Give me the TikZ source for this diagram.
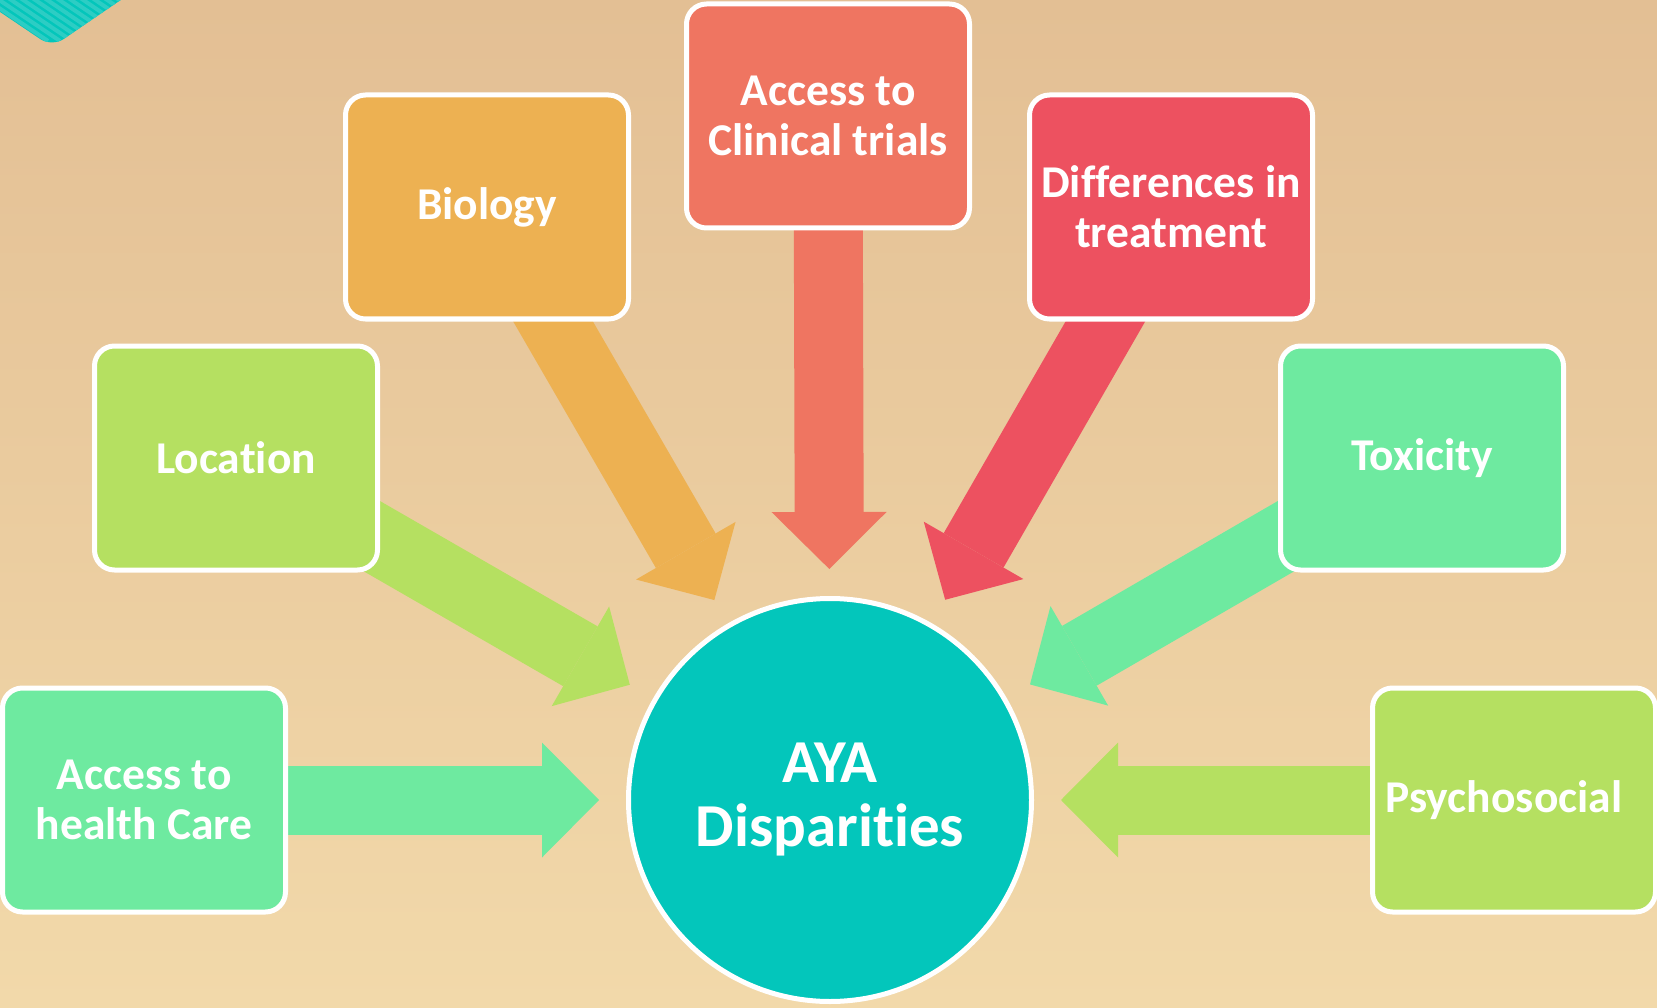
\documentclass[tikz,border=0pt]{standalone}
\usepackage{fontspec}
\setmainfont{Carlito}[Ligatures=NoCommon]
\usetikzlibrary{arrows.meta,backgrounds}

\definecolor{bgtop}{RGB}{227,191,148}
\definecolor{bgbot}{RGB}{242,217,170}
\definecolor{cbio}{RGB}{237,177,82}
\definecolor{ctrial}{RGB}{239,117,97}
\definecolor{cdiff}{RGB}{237,81,96}
\definecolor{clime}{RGB}{181,224,97}
\definecolor{cmint}{RGB}{110,234,160}
\definecolor{cteal}{RGB}{3,198,187}
\definecolor{cstripe}{RGB}{44,205,196}

\begin{document}
\begin{tikzpicture}[x=1pt, y=-1pt,
    factor/.style={draw=white, line width=5pt, rounded corners=20pt, minimum width=283pt, minimum height=224pt, text=white, align=center, font=\fontsize{45.5}{50}\selectfont\bfseries},
    hub/.style={circle, draw=white, line width=5pt, fill=cteal, minimum size=403pt, text=white, align=center, font=\fontsize{61}{64}\selectfont\bfseries},
    feed/.style={line width=69pt, -{Triangle[length=57pt, width=115pt, line width=0pt]}, shorten >=27pt, shorten <=-60pt}]
    \useasboundingbox (0,0) rectangle (1657,1008);

    \node[factor, fill=cmint] (care) at (144,800) {Access to\\health Care};
    \node[factor, fill=clime] (loc) at (236,458) {Location};
    \node[factor, fill=cbio] (bio) at (487,207) {Biology};
    \node[factor, fill=ctrial] (trial) at (828,116) {Access to\\Clinical trials};
    \node[factor, fill=cdiff] (diff) at (1171,207) {Differences in\\treatment};
    \node[factor, fill=cmint] (tox) at (1422,458) {Toxicity};
    \node[factor, fill=clime] (psy) at (1514,800) {Psychosocial\hspace*{20pt}};
    \node[hub] (aya) at (830,800) {AYA\\Disparities};

    \begin{scope}[on background layer]
        \shade[top color=bgtop, bottom color=bgbot] (0,0) rectangle (1657,1008);
        % striped corner tab
        \begin{scope}
            \clip[rounded corners=14pt] (-40,-15) -- (52,47) -- (150,-20) -- cycle;
            \fill[cteal] (-40,-20) rectangle (150,60);
            \foreach \k in {-10,...,14}
                \draw[cstripe, line width=4pt] (\k*12,-40) -- ++(120,81);
        \end{scope}

        \draw[feed, cmint] (care) -- (aya);
        \draw[feed, clime] (loc) -- (aya);
        \draw[feed, cbio] (bio) -- (aya);
        \draw[feed, ctrial] (trial) -- (aya);
        \draw[feed, cdiff] (diff) -- (aya);
        \draw[feed, cmint] (tox) -- (aya);
        \draw[feed, clime] (psy) -- (aya);
    \end{scope}
\end{tikzpicture}
\end{document}
